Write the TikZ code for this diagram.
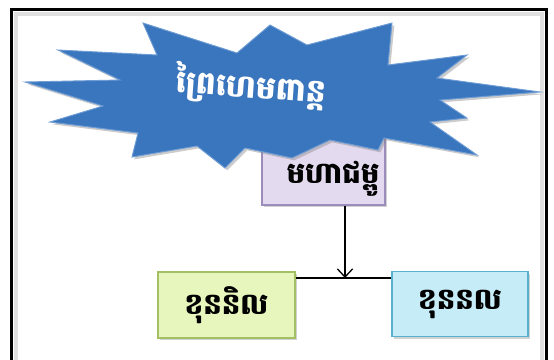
\documentclass[tikz,border=0pt]{standalone}
\usepackage{fontspec}
\newfontfamily\khmerfont[Script=Khmer]{Battambang}
\usetikzlibrary{calc,shadows,arrows.meta}
\definecolor{starblue}{HTML}{3A76BE}
\definecolor{starline}{HTML}{6E9CD4}
\definecolor{mahafill}{HTML}{E4DAF0}
\definecolor{mahaline}{HTML}{9C8CBC}
\definecolor{nilfill}{HTML}{E6F6BC}
\definecolor{nilline}{HTML}{A4C064}
\definecolor{nalfill}{HTML}{C6ECF8}
\definecolor{nalline}{HTML}{58B0CC}
\tikzset{
  box/.style={draw, line width=1.1pt, rectangle, inner sep=0pt,
    font=\khmerfont\bfseries\fontsize{25}{27}\selectfont,
    drop shadow={shadow xshift=2pt, shadow yshift=-2pt, opacity=0.35}},
  link/.style={line width=1.1pt, black}
}

\begin{document}
\begin{tikzpicture}[x=0.03cm, y=-0.03cm]
			%%%%% START %%%%%
			
			\useasboundingbox (0, 0) rectangle (554, 359);
			\fill[white] (0, 0) rectangle (554, 359);
			
			% frame
			\draw[line width=4pt, black!12] (16, 380) -- (16, 14) -- (542, 14) -- (542, 380);
			\draw[line width=2.6pt] (11.5, 380) -- (11.5, 9.5) -- (546.5, 9.5) -- (546.5, 380);
			
			% boxes
			\node[box, fill=mahafill, draw=mahaline, minimum width=3.69cm, minimum height=2.25cm] (maha) at (323.5, 167.5) {};
			\node[box, fill=nilfill, draw=nilline, minimum width=4.11cm, minimum height=1.98cm] (khunnil) at (226.5, 305) {ខុននិល};
			\node[box, fill=nalfill, draw=nalline, minimum width=4.08cm, minimum height=1.95cm] (khunnal) at (460, 304) {ខុននល};
			
			% star
			\draw[line width=0.8pt, draw=starline, fill=starblue, drop shadow={shadow xshift=2pt, shadow yshift=-2pt, opacity=0.4}]
				(25, 82) -- (103, 106) -- (50, 122) -- (138, 133) -- (132, 157) -- (197, 146)
				-- (225, 168) -- (245, 148) -- (292, 158) -- (330, 140) -- (378, 150) -- (384, 138)
				-- (477, 155) -- (430, 122) -- (467, 118) -- (440, 100) -- (540, 92) -- (437, 78)
				-- (467, 55) -- (388, 65) -- (392, 23) -- (307, 45) -- (270, 25) -- (237, 53)
				-- (143, 23) -- (157, 55) -- (58, 50) -- (120, 80) -- cycle;
			\node[white, rotate=-4, font=\khmerfont\bfseries\fontsize{27}{29}\selectfont] (forest) at (251, 86) {ព្រៃហេមពាន្ត};
			
			\node[font=\khmerfont\bfseries\fontsize{25}{27}\selectfont] (mahatext) at (333, 179) {មហាជម្ពូ};
			
			% links
			\coordinate (join) at (345, 278);
			\draw[link, -{Straight Barb[length=7pt, width=13pt]}] (maha.south -| join) -- (join);
			\draw[link] (join -| khunnil.east) -- (join -| khunnal.west);
			
			%%%%% END %%%%%
\end{tikzpicture}
\end{document}
